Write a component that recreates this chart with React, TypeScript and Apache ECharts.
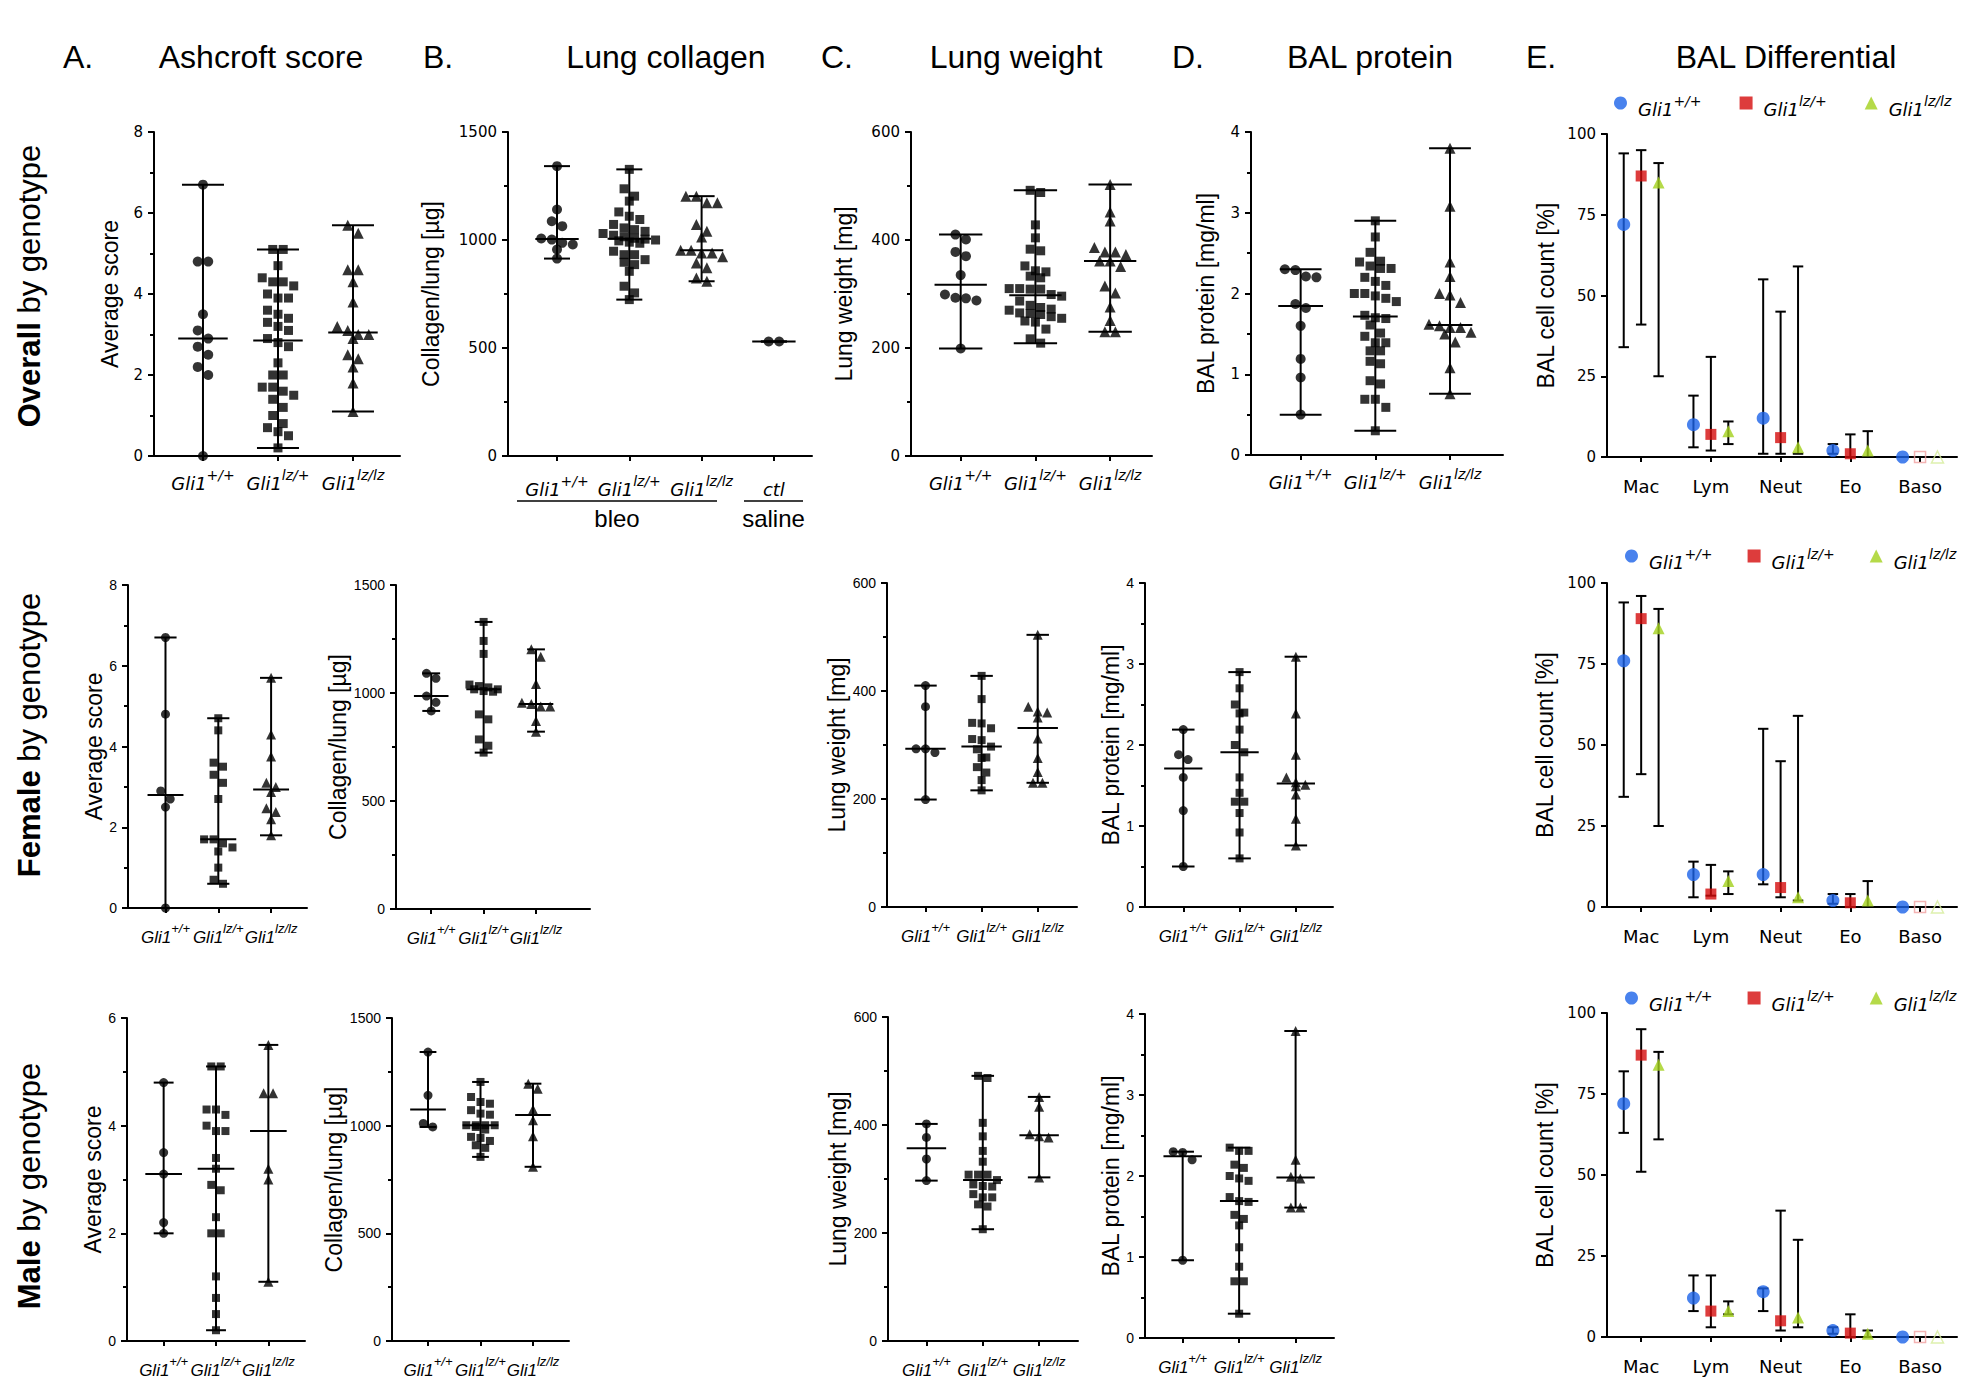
import React, { useEffect, useRef } from 'react';
import * as echarts from 'echarts';

// ---------------- texts ----------------
const columnLetters = ['A.', 'B.', 'C.', 'D.', 'E.'];
const columnTitles = ['Ashcroft score', 'Lung collagen', 'Lung weight', 'BAL protein', 'BAL Differential'];
const rowBold = ['Overall', 'Female', 'Male'];
const rowSuffix = ' by genotype';
const yAxisNames = ['Average score', 'Collagen/lung [µg]', 'Lung weight [mg]', 'BAL protein [mg/ml]', 'BAL cell count [%]'];
const geneName = 'Gli1';
const genotypes = ['+/+', 'lz/+', 'lz/lz'];
const controlLabel = 'ctl';
const treatmentLabels = ['bleo', 'saline'];
const cellTypes = ['Mac', 'Lym', 'Neut', 'Eo', 'Baso'];
const legendNames = genotypes.map((g) => `${geneName} ${g}`);

// ---------------- y-axis ticks ----------------
const yMaxByRow = [
  [8, 1500, 600, 4, 100],
  [8, 1500, 600, 4, 100],
  [6, 1500, 600, 4, 100],
];
const yStep = [2, 500, 200, 1, 25];

// ---------------- Overall ----------------
const ashOverallWT = [6.7, 4.8, 4.8, 3.5, 3.1, 2.9, 2.7, 2.5, 2.2, 2.0, 0];
const ashOverallHet = [5.1, 5.1, 4.7, 4.4, 4.3, 4.3, 4.2, 4.0, 3.9, 3.9, 3.6, 3.5, 3.4, 3.3, 3.2, 3.1, 2.9, 2.8, 2.7, 2.3, 2.0, 2.0, 1.7, 1.7, 1.6, 1.5, 1.4, 1.2, 1.0, 0.8, 0.7, 0.6, 0.5, 0.2];
const ashOverallHom = [5.7, 5.5, 4.6, 4.6, 4.3, 3.8, 3.2, 3.1, 3.0, 3.0, 2.9, 2.5, 2.4, 2.2, 1.8, 1.1];

const colOverallWT = [1342, 1141, 1087, 1064, 1007, 1002, 987, 979, 956, 914];
const colOverallHet = [1327, 1237, 1203, 1180, 1130, 1110, 1095, 1072, 1056, 1048, 1040, 1030, 1022, 1015, 1008, 1004, 1000, 996, 990, 985, 948, 932, 932, 909, 897, 886, 855, 786, 755, 724];
const colOverallHom = [1203, 1203, 1172, 1172, 1072, 1041, 1014, 953, 953, 940, 940, 922, 894, 871, 824, 809];
const colSalineCtl = [530, 530];

const lwOverallWT = [410, 401, 378, 370, 335, 299, 293, 292, 288, 199];
const lwOverallHet = [492, 488, 428, 404, 383, 380, 352, 343, 341, 333, 330, 310, 310, 309, 309, 299, 296, 287, 279, 275, 272, 270, 265, 264, 262, 258, 255, 250, 248, 235, 217, 209];
const lwOverallHom = [503, 452, 435, 386, 378, 378, 373, 361, 361, 351, 315, 302, 276, 251, 230, 230];

const balOverallWT = [2.30, 2.29, 2.21, 2.20, 1.87, 1.82, 1.60, 1.19, 0.96, 0.50];
const balOverallHet = [2.90, 2.70, 2.51, 2.40, 2.39, 2.34, 2.31, 2.31, 2.20, 2.15, 2.10, 2.00, 2.00, 1.97, 1.94, 1.90, 1.73, 1.70, 1.69, 1.61, 1.51, 1.47, 1.39, 1.39, 1.29, 1.29, 1.16, 1.13, 0.92, 0.88, 0.69, 0.69, 0.59, 0.30];
const balOverallHom = [3.80, 3.08, 2.39, 2.21, 2.00, 1.98, 1.89, 1.62, 1.60, 1.58, 1.58, 1.52, 1.50, 1.40, 1.08, 0.76];

// ---------------- Female ----------------
const ashFemaleWT = [6.7, 4.8, 2.9, 2.7, 2.5, 0];
const ashFemaleHet = [4.7, 4.4, 3.6, 3.5, 3.3, 3.1, 2.7, 1.7, 1.7, 1.6, 1.5, 1.4, 1.0, 0.7, 0.6];
const ashFemaleHom = [5.7, 4.3, 3.75, 3.1, 3.0, 2.87, 2.47, 2.38, 2.2, 1.8];

const colFemaleWT = [1091, 1068, 986, 957, 917];
const colFemaleHet = [1329, 1241, 1181, 1039, 1032, 1026, 1017, 1017, 1009, 1006, 901, 878, 785, 756, 724];
const colFemaleHom = [1202, 1168, 1042, 955, 949, 937, 937, 870, 821];

const lwFemaleWT = [410, 371, 293, 293, 286, 199];
const lwFemaleHet = [428, 385, 341, 340, 331, 311, 309, 297, 292, 277, 276, 259, 249, 235, 216];
const lwFemaleHom = [504, 371, 362, 360, 351, 312, 276, 250, 230, 230];

const balFemaleWT = [2.19, 1.88, 1.82, 1.60, 1.19, 0.50];
const balFemaleHet = [2.90, 2.70, 2.50, 2.40, 2.39, 2.19, 2.00, 1.91, 1.60, 1.41, 1.30, 1.30, 1.16, 0.92, 0.60];
const balFemaleHom = [3.09, 2.39, 1.88, 1.60, 1.54, 1.51, 1.49, 1.39, 1.09, 0.76];

// ---------------- Male ----------------
const ashMaleWT = [4.8, 3.5, 3.1, 2.2, 2.0];
const ashMaleHet = [5.1, 5.1, 4.3, 4.3, 4.2, 4.0, 3.9, 3.9, 3.4, 3.2, 2.9, 2.8, 2.3, 2.0, 2.0, 1.2, 0.8, 0.5, 0.2];
const ashMaleHom = [5.5, 4.6, 4.6, 3.2, 3.0, 1.1];

const colMaleWT = [1342, 1141, 1010, 994];
const colMaleHet = [1203, 1133, 1110, 1102, 1072, 1056, 1051, 1002, 1002, 1002, 1002, 994, 982, 948, 943, 929, 909, 897, 855];
const colMaleHom = [1195, 1172, 1075, 1025, 951, 809];

const lwMaleWT = [402, 377, 337, 297];
const lwMaleHet = [491, 487, 404, 379, 352, 332, 308, 308, 308, 298, 290, 287, 286, 272, 266, 266, 253, 249, 207];
const lwMaleHom = [452, 434, 383, 379, 377, 303];

const balMaleWT = [2.30, 2.29, 2.20, 0.96];
const balMaleHet = [2.35, 2.31, 2.31, 2.14, 2.10, 2.00, 1.97, 1.94, 1.74, 1.69, 1.68, 1.52, 1.47, 1.39, 1.12, 0.88, 0.70, 0.70, 0.30];
const balMaleHom = [3.79, 2.20, 1.99, 1.97, 1.61, 1.61];

// ---------------- BAL differential (mean, low, high) by cell type ----------------
const diffOverallWTMean = [72, 10, 12, 2, 0];
const diffOverallWTLow = [34, 3, 1, 1, 0];
const diffOverallWTHigh = [94, 19, 55, 4, 0];
const diffOverallHetMean = [87, 7, 6, 1, 0];
const diffOverallHetLow = [41, 2, 1, 0, 0];
const diffOverallHetHigh = [95, 31, 45, 7, 0];
const diffOverallHomMean = [85, 8, 3, 2, 0];
const diffOverallHomLow = [25, 4, 1, 0, 0];
const diffOverallHomHigh = [91, 11, 59, 8, 0];

const diffFemaleWTMean = [76, 10, 10, 2, 0];
const diffFemaleWTLow = [34, 3, 7, 1, 0];
const diffFemaleWTHigh = [94, 14, 55, 4, 0];
const diffFemaleHetMean = [89, 4, 6, 1.3, 0];
const diffFemaleHetLow = [41, 3.5, 3, 0, 0];
const diffFemaleHetHigh = [96, 13, 45, 4, 0];
const diffFemaleHomMean = [86, 8, 3, 2, 0];
const diffFemaleHomLow = [25, 4, 2, 0, 0];
const diffFemaleHomHigh = [92, 11, 59, 8, 0];

const diffMaleWTMean = [72, 12, 14, 2, 0];
const diffMaleWTLow = [63, 8, 8, 1, 0];
const diffMaleWTHigh = [82, 19, 15, 3, 0];
const diffMaleHetMean = [87, 8, 5, 1.2, 0];
const diffMaleHetLow = [51, 3, 2, 0, 0];
const diffMaleHetHigh = [95, 19, 39, 7, 0];
const diffMaleHomMean = [84, 8, 6, 1, 0];
const diffMaleHomLow = [61, 7, 3, 0, 0];
const diffMaleHomHigh = [88, 11, 30, 2, 0];

const dotPanels = [
  [
    [ashOverallWT, ashOverallHet, ashOverallHom],
    [colOverallWT, colOverallHet, colOverallHom, colSalineCtl],
    [lwOverallWT, lwOverallHet, lwOverallHom],
    [balOverallWT, balOverallHet, balOverallHom],
  ],
  [
    [ashFemaleWT, ashFemaleHet, ashFemaleHom],
    [colFemaleWT, colFemaleHet, colFemaleHom],
    [lwFemaleWT, lwFemaleHet, lwFemaleHom],
    [balFemaleWT, balFemaleHet, balFemaleHom],
  ],
  [
    [ashMaleWT, ashMaleHet, ashMaleHom],
    [colMaleWT, colMaleHet, colMaleHom],
    [lwMaleWT, lwMaleHet, lwMaleHom],
    [balMaleWT, balMaleHet, balMaleHom],
  ],
];
const diffPanels = [
  [
    [diffOverallWTMean, diffOverallWTLow, diffOverallWTHigh],
    [diffOverallHetMean, diffOverallHetLow, diffOverallHetHigh],
    [diffOverallHomMean, diffOverallHomLow, diffOverallHomHigh],
  ],
  [
    [diffFemaleWTMean, diffFemaleWTLow, diffFemaleWTHigh],
    [diffFemaleHetMean, diffFemaleHetLow, diffFemaleHetHigh],
    [diffFemaleHomMean, diffFemaleHomLow, diffFemaleHomHigh],
  ],
  [
    [diffMaleWTMean, diffMaleWTLow, diffMaleWTHigh],
    [diffMaleHetMean, diffMaleHetLow, diffMaleHetHigh],
    [diffMaleHomMean, diffMaleHomLow, diffMaleHomHigh],
  ],
];

// ---------------- layout & style (not data) ----------------
const W = 1966;
const H = 1383;
const DJ = 'DejaVu Sans';
const LS = 'Liberation Sans';
const gridBoxes = [
  [[154, 132, 400, 456], [508, 132, 812, 456], [911, 132, 1152, 456], [1251, 132, 1503, 455], [1607, 134, 1957, 457]],
  [[128, 585, 307, 908], [396, 585, 590, 909], [887, 583, 1077, 907], [1145, 583, 1333, 907], [1607, 583, 1957, 907]],
  [[127, 1018, 305, 1341], [392, 1018, 569, 1341], [888, 1017, 1078, 1341], [1145, 1014, 1334, 1338], [1607, 1013, 1957, 1337]],
];
const xRanges = [
  [[-0.653, 2.627], [-0.678, 3.527], [-0.665, 2.56], [-0.665, 2.71], [-0.49, 4.53]],
  [[-0.71, 2.68], [-0.672, 3.03], [-0.686, 2.7], [-0.68, 2.66], [-0.49, 4.53]],
  [[-0.7, 2.7], [-0.686, 2.686], [-0.682, 2.69], [-0.667, 2.68], [-0.49, 4.53]],
];
const nameGaps = [
  [33, 66, 56, 34, 50],
  [19, 44, 39, 22, 51],
  [19, 42, 38, 22, 51],
];
const capHalf = [
  [0.28, 0.18, 0.29, 0.28],
  [0.21, 0.17, 0.2, 0.2],
  [0.19, 0.16, 0.2, 0.2],
];
const medHalf = [
  [0.33, 0.3, 0.35, 0.3],
  [0.34, 0.33, 0.36, 0.34],
  [0.35, 0.34, 0.35, 0.34],
];
const labelMargins = [
  [12, 18, 12, 12, 20],
  [14, 14, 14, 14, 20],
  [14, 14, 14, 14, 20],
];
const dotSymbols = ['circle', 'rect', 'triangle', 'circle'];
const diffSymbols = ['circle', 'rect', 'triangle'];
const diffColors = ['#1b63e8', '#d50b0b', '#a3d11b'];
const diffFaded = ['#9bb8f0', '#f0a0a0', '#d6ec9a'];
const diffOffsets = [-0.25, 0, 0.25];
const diffSizes = [13, 11, 12];
const letterX = [63, 423, 821, 1172, 1526];
const titleX = [261, 666, 1016, 1370, 1786];
const titleY = 57;
const rowLabelX = 29;
const rowLabelY = [286, 735, 1186];
const legendLeft = [1609, 1620, 1620];
const legendCenterY = [104, 557, 999];

function median(a: number[]) {
  const s = [...a].sort((x, y) => x - y);
  const n = s.length;
  return n % 2 ? s[(n - 1) / 2] : (s[n / 2 - 1] + s[n / 2]) / 2;
}

// simple beeswarm: groups points into horizontal rows so markers do not overlap
function swarm(values: number[], yMax: number, hPx: number, unitPx: number, size: number, maxPerRow: number) {
  const sorted = [...values].sort((a, b) => b - a);
  const pxPerVal = hPx / yMax;
  const rows: number[][] = [];
  let cur: number[] = [];
  let startY = 0;
  for (const v of sorted) {
    const y = v * pxPerVal;
    if (cur.length && Math.abs(startY - y) < size * 0.9 && cur.length < maxPerRow) cur.push(v);
    else {
      if (cur.length) rows.push(cur);
      cur = [v];
      startY = y;
    }
  }
  if (cur.length) rows.push(cur);
  const out: number[][] = [];
  rows.forEach((row) => {
    const n = row.length;
    row.forEach((v, i) => out.push([((i - (n - 1) / 2) * size * 1.05) / unitPx, v]));
  });
  return out;
}

function rangeRenderer(cap: number, med: number) {
  return (params: any, api: any) => {
    const x = api.value(0);
    const lo = api.value(1);
    const hi = api.value(2);
    const style = { stroke: '#000', lineWidth: 2 };
    const pTop = api.coord([x, hi]);
    const pBot = api.coord([x, lo]);
    const c1 = api.coord([x - cap, hi]);
    const c2 = api.coord([x + cap, hi]);
    const c3 = api.coord([x - cap, lo]);
    const c4 = api.coord([x + cap, lo]);
    const children: any[] = [
      { type: 'line', shape: { x1: pTop[0], y1: pTop[1], x2: pBot[0], y2: pBot[1] }, style },
      { type: 'line', shape: { x1: c1[0], y1: c1[1], x2: c2[0], y2: c2[1] }, style },
      { type: 'line', shape: { x1: c3[0], y1: c3[1], x2: c4[0], y2: c4[1] }, style },
    ];
    if (med > 0) {
      const m = api.value(3);
      const m1 = api.coord([x - med, m]);
      const m2 = api.coord([x + med, m]);
      children.push({ type: 'line', shape: { x1: m1[0], y1: m1[1], x2: m2[0], y2: m2[1] }, style });
    }
    return { type: 'group', children };
  };
}

function genoRich(row: number) {
  const big = row === 0;
  const fam = big ? DJ : LS;
  const main = big ? 18 : 17;
  const sup = big ? 14 : 13;
  return {
    g: { fontFamily: fam, fontStyle: 'italic', fontSize: main, lineHeight: 24, verticalAlign: 'bottom', color: '#000' },
    s: { fontFamily: fam, fontStyle: 'italic', fontSize: sup, lineHeight: 15, verticalAlign: 'top', color: '#000' },
    c: { fontFamily: fam, fontStyle: 'italic', fontSize: main, lineHeight: 24, verticalAlign: 'bottom', color: '#000' },
  };
}

function buildOption() {
  const grid: any[] = [];
  const xAxis: any[] = [];
  const yAxis: any[] = [];
  const series: any[] = [];
  const axisLineStyle = { color: '#000', width: 2 };

  for (let row = 0; row < 3; row++) {
    for (let col = 0; col < 5; col++) {
      const idx = row * 5 + col;
      const [l, t, r, b] = gridBoxes[row][col];
      const [xmin, xmax] = xRanges[row][col];
      const isDiff = col === 4;
      grid.push({ left: l, top: t, width: r - l, height: b - t, containLabel: false, outerBoundsMode: 'none' });

      const nCats = isDiff ? cellTypes.length : dotPanels[row][col].length;
      const ticks = Array.from({ length: nCats }, (_, i) => i);
      xAxis.push({
        gridIndex: idx,
        type: 'value',
        min: xmin,
        max: xmax,
        axisLine: { show: true, onZero: false, lineStyle: axisLineStyle },
        axisTick: { show: true, length: 5, customValues: ticks, lineStyle: axisLineStyle },
        splitLine: { show: false },
        axisLabel: {
          customValues: ticks,
          margin: labelMargins[row][col],
          color: '#000',
          fontFamily: DJ,
          fontSize: 18,
          formatter: (v: number) => {
            const i = Math.round(v);
            if (isDiff) return cellTypes[i];
            if (i < 3) return `{g|${geneName}}{s|${genotypes[i]}}`;
            return `{c|${controlLabel}}`;
          },
          rich: isDiff ? undefined : genoRich(row),
        },
      });

      const yMax = yMaxByRow[row][col];
      const smallTicks = row > 0 && !isDiff;
      yAxis.push({
        gridIndex: idx,
        type: 'value',
        min: 0,
        max: yMax,
        interval: yStep[col],
        name: yAxisNames[col],
        nameLocation: 'middle',
        nameRotate: 90,
        nameGap: nameGaps[row][col],
        nameTextStyle: { fontFamily: LS, fontSize: 23, color: '#000' },
        axisLine: { show: true, onZero: false, lineStyle: axisLineStyle },
        axisTick: { show: true, length: 6, lineStyle: axisLineStyle },
        minorTick: { show: !isDiff, splitNumber: 2, length: 4, lineStyle: axisLineStyle },
        splitLine: { show: false },
        minorSplitLine: { show: false },
        axisLabel: {
          margin: 11,
          color: '#000',
          fontFamily: smallTicks ? LS : DJ,
          fontSize: smallTicks ? 14 : 15,
          formatter: (v: number) => String(v),
        },
      });

      if (!isDiff) {
        const groups = dotPanels[row][col];
        const unitPx = (r - l) / (xmax - xmin);
        const size = row === 0 ? 10 : 9;
        const maxPerRow = Math.max(2, Math.floor((0.85 * unitPx) / size));
        series.push({
          type: 'custom',
          xAxisIndex: idx,
          yAxisIndex: idx,
          silent: true,
          clip: false,
          z: 2,
          renderItem: rangeRenderer(capHalf[row][col], medHalf[row][col]),
          data: groups.map((vals, gi) => [gi, Math.min(...vals), Math.max(...vals), median(vals)]),
        });
        groups.forEach((vals, gi) => {
          const pts = swarm(vals, yMax, b - t, unitPx, size, maxPerRow).map(([dx, v]) => [gi + dx, v]);
          const sym = dotSymbols[gi];
          series.push({
            type: 'scatter',
            name: `dots-${idx}-${gi}`,
            xAxisIndex: idx,
            yAxisIndex: idx,
            silent: true,
            clip: false,
            z: 3,
            symbol: sym,
            symbolSize: sym === 'rect' ? size - 1 : sym === 'triangle' ? size + 1 : size,
            itemStyle: { color: '#000' },
            data: pts,
          });
        });
      } else {
        const groups = diffPanels[row];
        groups.forEach(([, lo, hi], gi) => {
          series.push({
            type: 'custom',
            xAxisIndex: idx,
            yAxisIndex: idx,
            silent: true,
            clip: false,
            z: 2,
            renderItem: rangeRenderer(0.075, 0),
            data: cellTypes.map((_, k) => [k + diffOffsets[gi], lo[k], hi[k]]),
          });
        });
        groups.forEach(([mean], gi) => {
          series.push({
            type: 'scatter',
            name: legendNames[gi],
            xAxisIndex: idx,
            yAxisIndex: idx,
            silent: true,
            clip: false,
            z: 3,
            symbol: diffSymbols[gi],
            symbolSize: diffSizes[gi],
            itemStyle: { color: diffColors[gi] },
            data: cellTypes.map((_, k) => {
              const item: any = { value: [k + diffOffsets[gi], mean[k]] };
              if (gi > 0 && mean[k] === 0) {
                item.itemStyle = { color: 'rgba(255,255,255,0)', borderColor: diffFaded[gi], borderWidth: 1.5 };
              }
              return item;
            }),
          });
        });
      }
    }
  }

  const legend = legendCenterY.map((cy, r) => ({
    show: true,
    orient: 'horizontal',
    left: legendLeft[r],
    top: cy - 15,
    itemWidth: 13,
    itemHeight: 13,
    itemGap: r === 0 ? 38 : 35,
    selectedMode: false,
    data: legendNames.map((n, i) => ({ name: n, icon: diffSymbols[i] })),
    formatter: (n: string) => `{g|${geneName}}{s|${n.split(' ')[1]}}`,
    textStyle: {
      padding: [6, 0, 0, 6],
      rich: {
        g: { fontFamily: DJ, fontStyle: 'italic', fontSize: 18, lineHeight: 24, verticalAlign: 'bottom', color: '#000' },
        s: { fontFamily: DJ, fontStyle: 'italic', fontSize: 14, lineHeight: 15, verticalAlign: 'top', color: '#000' },
      },
    },
  }));

  const graphic: any[] = [];
  columnLetters.forEach((ltr, c) => {
    graphic.push({
      type: 'text',
      x: letterX[c],
      y: titleY,
      silent: true,
      style: { text: ltr, fontFamily: LS, fontSize: 32, fill: '#000', align: 'left', verticalAlign: 'middle', textAlign: 'left', textVerticalAlign: 'middle' },
    });
    graphic.push({
      type: 'text',
      x: titleX[c],
      y: titleY,
      silent: true,
      style: { text: columnTitles[c], fontFamily: LS, fontSize: 32, fill: '#000', align: 'center', verticalAlign: 'middle', textAlign: 'center', textVerticalAlign: 'middle' },
    });
  });
  rowBold.forEach((bold, r) => {
    graphic.push({
      type: 'text',
      x: rowLabelX,
      y: rowLabelY[r],
      rotation: Math.PI / 2,
      silent: true,
      style: {
        text: `{b|${bold}}{n|${rowSuffix}}`,
        rich: {
          b: { fontFamily: LS, fontSize: 31, fontWeight: 'bold', fill: '#000', color: '#000' },
          n: { fontFamily: LS, fontSize: 31, fill: '#000', color: '#000' },
        },
        fontFamily: LS,
        fontSize: 31,
        fill: '#000',
        align: 'center',
        verticalAlign: 'middle',
        textAlign: 'center',
        textVerticalAlign: 'middle',
      },
    });
  });
  // bleo / saline grouping under Lung collagen (overall)
  const bracketY = 501;
  const brackets = [
    [517, 717],
    [744, 803],
  ];
  brackets.forEach(([x1, x2], i) => {
    graphic.push({ type: 'line', silent: true, shape: { x1, y1: bracketY, x2, y2: bracketY }, style: { stroke: '#000', lineWidth: 1.5 } });
    graphic.push({
      type: 'text',
      x: (x1 + x2) / 2,
      y: 518,
      silent: true,
      style: { text: treatmentLabels[i], fontFamily: LS, fontSize: 24, fill: '#000', align: 'center', verticalAlign: 'middle', textAlign: 'center', textVerticalAlign: 'middle' },
    });
  });

  return {
    animation: false,
    backgroundColor: '#fff',
    textStyle: { fontFamily: LS, color: '#000' },
    grid,
    xAxis,
    yAxis,
    legend,
    series,
    graphic,
  };
}

export default function App() {
  const ref = useRef<HTMLDivElement>(null);
  useEffect(() => {
    if (!ref.current) return;
    const chart = echarts.init(ref.current, undefined, { renderer: 'svg' });
    chart.setOption(buildOption() as any);
    return () => chart.dispose();
  }, []);
  return <div ref={ref} style={{ position: 'fixed', left: 0, top: 0, width: W, height: H, background: '#fff' }} />;
}
